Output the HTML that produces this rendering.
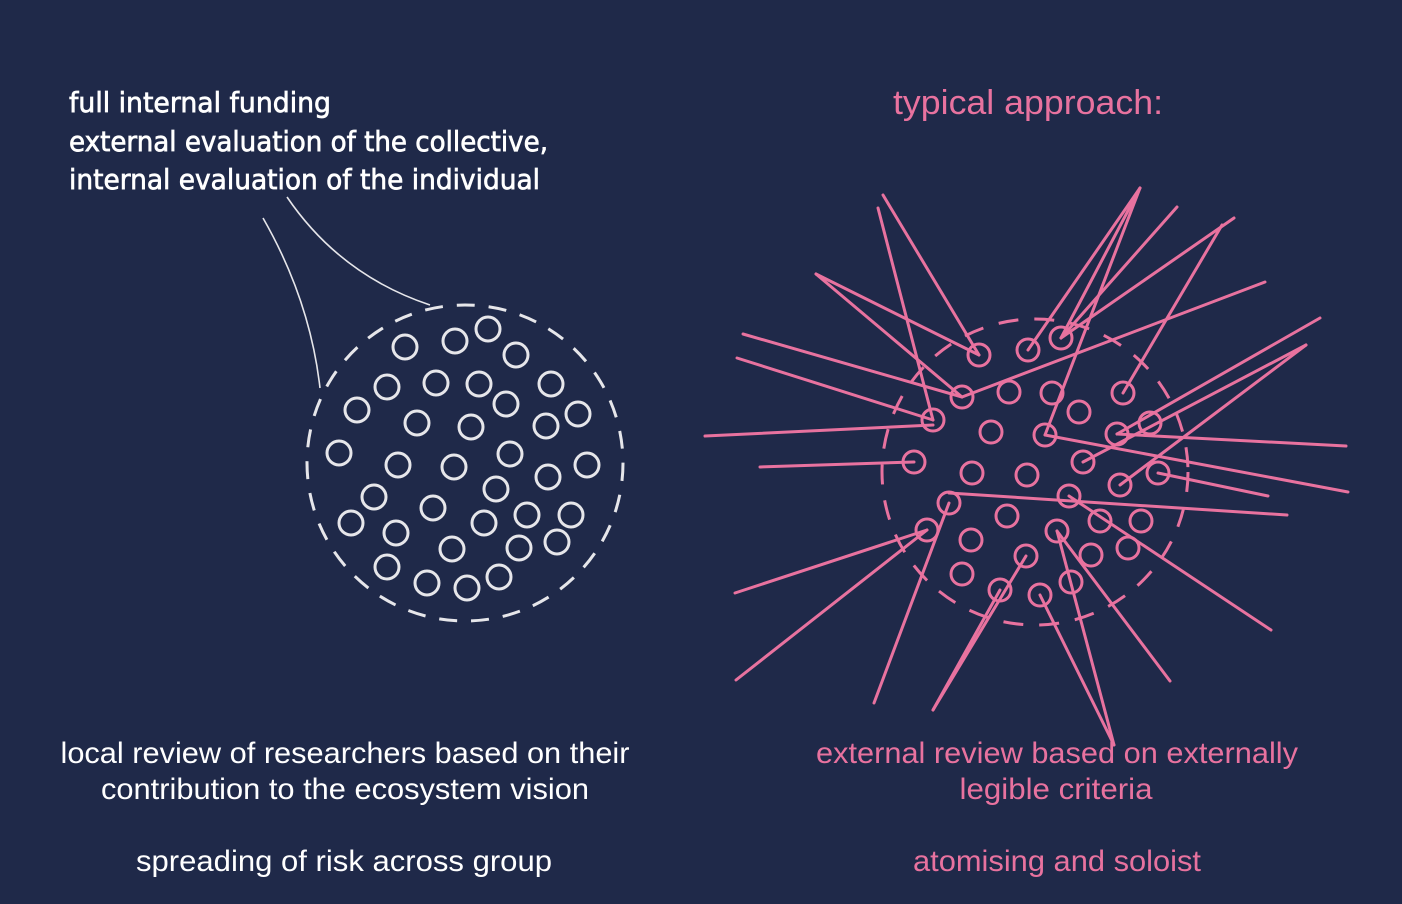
<!DOCTYPE html>
<html><head><meta charset="utf-8"><style>
html,body{margin:0;padding:0;background:#1f2949;}
svg{display:block;}
</style></head><body>
<svg width="1402" height="904" viewBox="0 0 1402 904" xmlns="http://www.w3.org/2000/svg">
<rect width="1402" height="904" fill="#1f2949"/>
<g font-family="'DejaVu Sans','Liberation Sans',sans-serif" fill="#ffffff" stroke="#ffffff" stroke-width="0.7" font-size="28">
<text x="69" y="112" textLength="262" lengthAdjust="spacingAndGlyphs">full internal funding</text>
<text x="69" y="151" textLength="479" lengthAdjust="spacingAndGlyphs">external evaluation of the collective,</text>
<text x="69" y="189" textLength="471" lengthAdjust="spacingAndGlyphs">internal evaluation of the individual</text>
</g>
<g fill="none" stroke="#e6e6ea" stroke-width="1.6">
<path d="M263 218 Q310 300 320 388"/>
<path d="M287 197 Q340 275 430 305"/>
</g>
<circle cx="465" cy="463" r="158" fill="none" stroke="#e6e6ea" stroke-width="3" stroke-dasharray="18 14"/>
<g fill="none" stroke="#e6e6ea" stroke-width="3">
<circle cx="405" cy="347" r="12"/><circle cx="455" cy="341" r="12"/><circle cx="488" cy="329" r="12"/><circle cx="516" cy="355" r="12"/>
<circle cx="387" cy="387" r="12"/><circle cx="436" cy="383" r="12"/><circle cx="479" cy="384" r="12"/><circle cx="551" cy="384" r="12"/>
<circle cx="506" cy="404" r="12"/><circle cx="357" cy="410" r="12"/><circle cx="417" cy="423" r="12"/><circle cx="471" cy="427" r="12"/>
<circle cx="546" cy="426" r="12"/><circle cx="578" cy="414" r="12"/><circle cx="339" cy="453" r="12"/><circle cx="398" cy="465" r="12"/>
<circle cx="454" cy="467" r="12"/><circle cx="510" cy="454" r="12"/><circle cx="548" cy="477" r="12"/><circle cx="587" cy="465" r="12"/>
<circle cx="374" cy="497" r="12"/><circle cx="496" cy="489" r="12"/><circle cx="433" cy="508" r="12"/><circle cx="484" cy="523" r="12"/>
<circle cx="527" cy="515" r="12"/><circle cx="571" cy="515" r="12"/><circle cx="351" cy="523" r="12"/><circle cx="396" cy="533" r="12"/>
<circle cx="452" cy="549" r="12"/><circle cx="519" cy="548" r="12"/><circle cx="557" cy="542" r="12"/><circle cx="387" cy="567" r="12"/>
<circle cx="427" cy="583" r="12"/><circle cx="467" cy="588" r="12"/><circle cx="499" cy="577" r="12"/>
</g>
<g font-family="'Liberation Sans',sans-serif" font-size="30" fill="#ffffff" text-anchor="middle">
<text x="345" y="763" textLength="569" lengthAdjust="spacingAndGlyphs">local review of researchers based on their</text>
<text x="345" y="799" textLength="488" lengthAdjust="spacingAndGlyphs">contribution to the ecosystem vision</text>
<text x="344" y="871" textLength="416" lengthAdjust="spacingAndGlyphs">spreading of risk across group</text>
</g>
<g font-family="'Liberation Sans',sans-serif" fill="#e8729f" text-anchor="middle">
<text x="1028" y="114" font-size="34" textLength="270" lengthAdjust="spacingAndGlyphs">typical approach:</text>
<text x="1057" y="763" font-size="30" textLength="482" lengthAdjust="spacingAndGlyphs">external review based on externally</text>
<text x="1056" y="799" font-size="30" textLength="193" lengthAdjust="spacingAndGlyphs">legible criteria</text>
<text x="1057" y="871" font-size="30" textLength="288" lengthAdjust="spacingAndGlyphs">atomising and soloist</text>
</g>
<circle cx="1035" cy="472" r="153" fill="none" stroke="#e8729f" stroke-width="3" stroke-dasharray="20 16"/>
<g fill="none" stroke="#e8729f" stroke-width="3">
<circle cx="979" cy="355" r="11"/><circle cx="1028" cy="350" r="11"/><circle cx="1061" cy="338" r="11"/><circle cx="962" cy="397" r="11"/>
<circle cx="1009" cy="392" r="11"/><circle cx="1052" cy="393" r="11"/><circle cx="1123" cy="393" r="11"/><circle cx="1079" cy="412" r="11"/>
<circle cx="933" cy="420" r="11"/><circle cx="991" cy="432" r="11"/><circle cx="1045" cy="435" r="11"/><circle cx="1117" cy="434" r="11"/>
<circle cx="1150" cy="423" r="11"/><circle cx="914" cy="462" r="11"/><circle cx="972" cy="473" r="11"/><circle cx="1027" cy="475" r="11"/>
<circle cx="1083" cy="462" r="11"/><circle cx="1120" cy="485" r="11"/><circle cx="1158" cy="473" r="11"/><circle cx="949" cy="503" r="11"/>
<circle cx="1069" cy="496" r="11"/><circle cx="1007" cy="516" r="11"/><circle cx="1100" cy="521" r="11"/><circle cx="1141" cy="521" r="11"/>
<circle cx="927" cy="530" r="11"/><circle cx="971" cy="540" r="11"/><circle cx="1057" cy="531" r="11"/><circle cx="1091" cy="555" r="11"/>
<circle cx="1128" cy="548" r="11"/><circle cx="962" cy="574" r="11"/><circle cx="1026" cy="556" r="11"/><circle cx="1000" cy="590" r="11"/>
<circle cx="1040" cy="595" r="11"/><circle cx="1071" cy="582" r="11"/>
</g>
<g stroke="#e8729f" stroke-width="3" fill="none" stroke-linecap="round">
<line x1="979" y1="355" x2="883" y2="195"/>
<line x1="979" y1="355" x2="816" y2="274"/>
<line x1="962" y1="397" x2="816" y2="274"/>
<line x1="962" y1="397" x2="1265" y2="282"/>
<line x1="962" y1="397" x2="743" y2="334"/>
<line x1="933" y1="420" x2="878" y2="208"/>
<line x1="933" y1="420" x2="737" y2="358"/>
<line x1="933" y1="425" x2="705" y2="436"/>
<line x1="914" y1="462" x2="760" y2="467"/>
<line x1="1028" y1="350" x2="1140" y2="188"/>
<line x1="1061" y1="338" x2="1140" y2="188"/>
<line x1="1061" y1="338" x2="1177" y2="207"/>
<line x1="1061" y1="338" x2="1234" y2="218"/>
<line x1="1045" y1="435" x2="1140" y2="188"/>
<line x1="1045" y1="435" x2="1348" y2="492"/>
<line x1="1117" y1="434" x2="1346" y2="446"/>
<line x1="1123" y1="393" x2="1222" y2="225"/>
<line x1="1083" y1="462" x2="1306" y2="345"/>
<line x1="1117" y1="434" x2="1320" y2="318"/>
<line x1="1120" y1="485" x2="1306" y2="345"/>
<line x1="1158" y1="473" x2="1268" y2="496"/>
<line x1="949" y1="493" x2="1287" y2="515"/>
<line x1="949" y1="503" x2="874" y2="703"/>
<line x1="1069" y1="496" x2="1271" y2="630"/>
<line x1="927" y1="530" x2="735" y2="593"/>
<line x1="927" y1="530" x2="736" y2="680"/>
<line x1="1026" y1="556" x2="933" y2="710"/>
<line x1="1057" y1="531" x2="1114" y2="745"/>
<line x1="1057" y1="531" x2="1170" y2="681"/>
<line x1="1040" y1="595" x2="1114" y2="745"/>
<line x1="1000" y1="590" x2="933" y2="710"/>
</g>
</svg>
</body></html>
